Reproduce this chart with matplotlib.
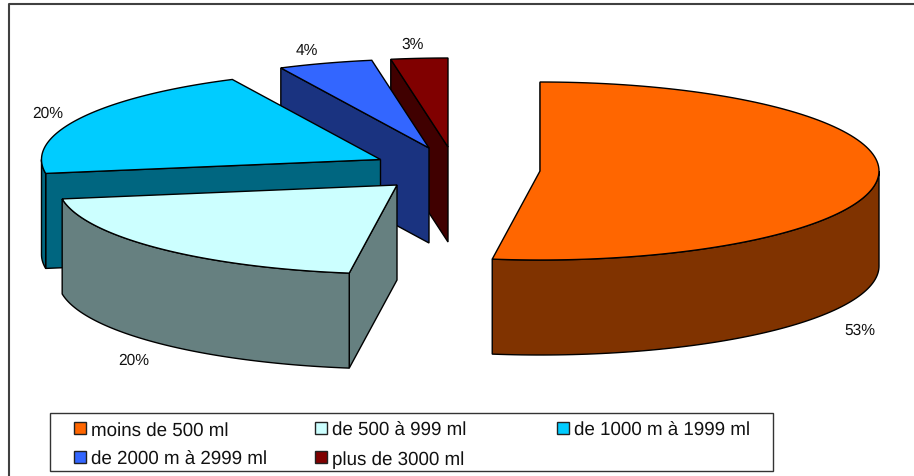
import numpy as np
import matplotlib
matplotlib.use("Agg")
import matplotlib.pyplot as plt

plt.rcParams['font.family'] = ['Liberation Sans', 'DejaVu Sans']
plt.rcParams['text.hinting'] = 'no_hinting'

# share of each slice
categories = ["moins de 500 ml", "de 500 à 999 ml", "de 1000 m à 1999 ml",
              "de 2000 m à 2999 ml", "plus de 3000 ml"]
shares = [52.25, 20.25, 20.3, 4.5, 2.7]
pct_labels = ["53%", "20%", "20%", "4%", "3%"]

top_colors = ["#FF6600", "#CCFFFF", "#00CCFF", "#3366FF", "#800000"]
side_colors = ["#803300", "#668080", "#006680", "#1A3380", "#400000"]

# layout, in pixels of the 914x477 picture
centers = [(540, 172), (397, 186), (380.5, 160.5), (429, 149), (448, 148)]
label_pos = [(860, 335), (134, 364.5), (48, 117.5), (307, 55), (413, 49)]
legend_pos = [(74, 429), (315, 429), (557, 429), (74, 458), (315, 458)]
rx = 339
ry = 89
depth = 95

fig = plt.figure(figsize=(9.14, 4.77), dpi=100)
ax = fig.add_axes([0, 0, 1, 1])
ax.set_xlim(0, 914)
ax.set_ylim(477, 0)
ax.axis("off")


def rim(cx, cy, t):
    # t in degrees, clockwise from the top of the ellipse
    t = np.radians(t)
    return cx + rx * np.sin(t), cy - ry * np.cos(t)


edges = np.concatenate([[0], np.cumsum(shares)]) * 3.6

# back slices first, the orange one last
for i in [4, 3, 2, 1, 0]:
    cx, cy = centers[i]
    t0, t1 = edges[i], edges[i + 1]

    # flat face along the first edge of the slice
    x0, y0 = rim(cx, cy, t0)
    ax.fill([x0, cx, cx, x0], [y0, cy, cy + depth, y0 + depth],
            fc=side_colors[i], ec="black", lw=1)

    # curved wall, only the part facing the viewer
    a = max(t0, 90)
    b = min(t1, 270)
    if a < b:
        t = np.linspace(a, b, 80)
        wx, wy = rim(cx, cy, t)
        ax.fill(np.concatenate([wx, wx[::-1]]),
                np.concatenate([wy, wy[::-1] + depth]),
                fc=side_colors[i], ec="black", lw=1)

    # top of the slice
    t = np.linspace(t0, t1, 120)
    tx, ty = rim(cx, cy, t)
    ax.fill(np.concatenate([[cx], tx]), np.concatenate([[cy], ty]),
            fc=top_colors[i], ec="black", lw=1)

for i in range(5):
    ax.text(label_pos[i][0], label_pos[i][1], pct_labels[i], fontsize=11.2,
            ha="center", va="baseline", color="#111111")

# outer frame, cut by the right and bottom of the picture
ax.plot([9, 9, 914], [477, 4.5, 4.5], color="#404040", lw=1.5, clip_on=False)

# legend
ax.add_patch(plt.Rectangle((49.5, 414), 723, 58, fc="white", ec="#333333", lw=1))
for i in range(5):
    lx, ly = legend_pos[i]
    ax.add_patch(plt.Rectangle((lx, ly - 6), 12, 12, fc=top_colors[i], ec="#222222", lw=1))
    ax.text(lx + 17, ly + 7, categories[i], fontsize=13.5, ha="left", va="baseline",
            color="#111111")

fig.savefig("out.png", dpi=100)
